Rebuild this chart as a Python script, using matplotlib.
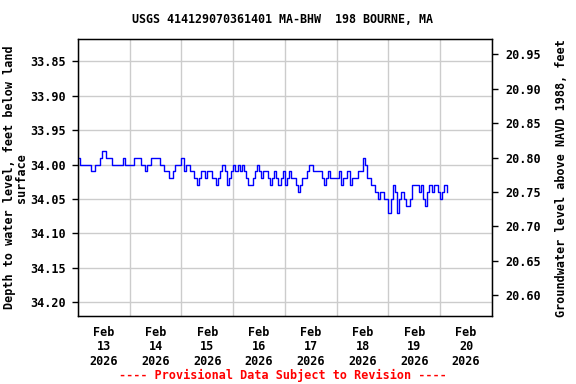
import numpy as np
import pandas as pd
import matplotlib
matplotlib.use("Agg")
import matplotlib.pyplot as plt
import matplotlib.dates as mdates

title = "USGS 414129070361401 MA-BHW  198 BOURNE, MA"
start_time = "2026-02-13 00:00"
datum_offset = 54.79  # elevation = offset - depth

# hourly depth to water, feet below land surface
depth = [
    33.99, 34.00, 34.00, 34.00, 34.00, 34.00, 34.01, 34.01, 34.00, 34.00,
    33.99, 33.98, 33.98, 33.99, 33.99, 33.99, 34.00, 34.00, 34.00, 34.00,
    34.00, 33.99, 34.00, 34.00, 34.00, 34.00, 33.99, 33.99, 33.99, 34.00,
    34.00, 34.01, 34.00, 34.00, 33.99, 33.99, 33.99, 33.99, 34.00, 34.00,
    34.01, 34.01, 34.02, 34.02, 34.01, 34.00, 34.00, 34.00, 33.99, 34.01,
    34.00, 34.00, 34.01, 34.01, 34.02, 34.03, 34.02, 34.01, 34.01, 34.02,
    34.01, 34.01, 34.02, 34.02, 34.03, 34.02, 34.01, 34.00, 34.01, 34.03,
    34.02, 34.01, 34.00, 34.01, 34.00, 34.01, 34.00, 34.01, 34.02, 34.03,
    34.03, 34.02, 34.01, 34.00, 34.01, 34.02, 34.01, 34.01, 34.02, 34.03,
    34.02, 34.01, 34.02, 34.03, 34.02, 34.01, 34.03, 34.02, 34.01, 34.02,
    34.02, 34.03, 34.04, 34.03, 34.02, 34.02, 34.01, 34.00, 34.00, 34.01,
    34.01, 34.01, 34.01, 34.02, 34.03, 34.02, 34.01, 34.02, 34.02, 34.02,
    34.02, 34.01, 34.03, 34.02, 34.02, 34.01, 34.03, 34.02, 34.02, 34.02,
    34.01, 34.01, 33.99, 34.00, 34.02, 34.02, 34.03, 34.03, 34.04, 34.05,
    34.04, 34.04, 34.05, 34.05, 34.07, 34.05, 34.03, 34.04, 34.07, 34.05,
    34.04, 34.05, 34.06, 34.06, 34.05, 34.03, 34.03, 34.03, 34.04, 34.03,
    34.05, 34.06, 34.04, 34.03, 34.04, 34.03, 34.03, 34.04, 34.05, 34.04,
    34.03, 34.04,
]
times = pd.date_range(start_time, periods=len(depth), freq="h")

depth_ticks = [33.85, 33.90, 33.95, 34.00, 34.05, 34.10, 34.15, 34.20]
elev_ticks = [20.60, 20.65, 20.70, 20.75, 20.80, 20.85, 20.90, 20.95]
depth_lim = (34.22, 33.818)

font = "DejaVu Sans Mono"
plt.rcParams["font.family"] = font
plt.rcParams["font.weight"] = "bold"

fig = plt.figure(figsize=(5.76, 3.84), dpi=100)
ax = fig.add_axes([0.1354, 0.177, 0.7186, 0.721])

ax.plot(times, depth, color="#0000ff", lw=1, drawstyle="steps-post")
ax.set_ylim(*depth_lim)
ax.set_yticks(depth_ticks)
ax.set_yticklabels([f"{v:.2f}" for v in depth_ticks], fontsize=8.5, fontweight="bold")

x0 = pd.Timestamp("2026-02-13")
ax.set_xlim(x0, x0 + pd.Timedelta(days=8))
ax.xaxis.set_major_locator(mdates.DayLocator())
ax.xaxis.set_major_formatter(plt.NullFormatter())
ax.xaxis.set_minor_locator(mdates.HourLocator(byhour=12))
ax.xaxis.set_minor_formatter(mdates.DateFormatter("%b\n%d\n%Y"))
ax.tick_params(axis="x", which="both", length=0, pad=7)
for lbl in ax.xaxis.get_minorticklabels():
    lbl.set_fontsize(8.5)
    lbl.set_fontweight("bold")
    lbl.set_linespacing(1.15)
ax.tick_params(axis="y", length=4, width=1, direction="out", colors="black", pad=5)

ax.grid(True, which="major", color="#cccccc", lw=1)
ax.set_axisbelow(True)
for s in ax.spines.values():
    s.set_color("black")
    s.set_linewidth(1)

ax.set_ylabel("Depth to water level, feet below land\nsurface", fontsize=8.5,
              fontweight="bold", linespacing=0.9, labelpad=1)

ax2 = ax.twinx()
ax2.set_ylim(datum_offset - depth_lim[0], datum_offset - depth_lim[1])
ax2.set_yticks(elev_ticks)
ax2.set_yticklabels([f"{v:.2f}" for v in elev_ticks], fontsize=8.5, fontweight="bold")
ax2.tick_params(axis="y", length=4, width=1, direction="out", pad=6)
ax2.set_ylabel("Groundwater level above NAVD 1988, feet", fontsize=8.5,
               fontweight="bold", labelpad=10)

fig.text(0.4905, 0.948, title, ha="center", va="center", fontsize=8.4, fontweight="bold")
fig.text(0.4905, 0.023, "---- Provisional Data Subject to Revision ----", ha="center",
         va="center", fontsize=8.5, fontweight="bold", color="red")

fig.savefig("out.png", dpi=100)
